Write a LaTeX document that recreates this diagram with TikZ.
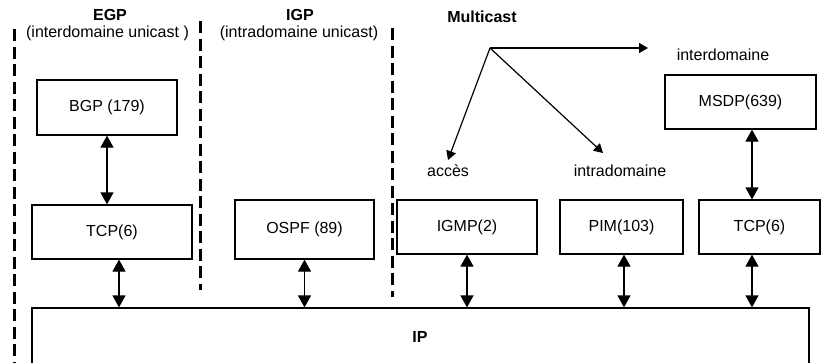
\documentclass[tikz,border=0pt]{standalone}
\usepackage{fontspec}
\setmainfont{Liberation Sans}
\usetikzlibrary{arrows.meta}
\begin{document}
\begin{tikzpicture}[x=1pt,y=-1pt,
  every node/.style={font=\fontsize{16}{19}\selectfont},
  proto/.style={draw, line width=1.2pt, inner sep=0pt},
  head/.style={font=\fontsize{16}{19}\selectfont\bfseries},
  link/.style={line width=1.2pt, {Triangle[width=13pt,length=12pt]}-{Triangle[width=13pt,length=12pt]}},
  branch/.style={line width=1.2pt, -{Triangle[width=10pt,length=9pt]}},
  separator/.style={line width=3pt, dash pattern=on 12pt off 5.5pt}]
\useasboundingbox (0,0) rectangle (823,362);

% domain separators
\draw[separator] (14,29) -- (14,370);
\draw[separator] (200,21) -- (200,290);
\draw[separator] (392,28) -- (392,297);

% column headings
\node[head] (egp) at (110,15) {EGP};
\node (egpsub) at (107.5,33) {(interdomaine unicast )};
\node[head] (igp) at (300,15) {IGP};
\node (igpsub) at (299,33) {(intradomaine unicast)};
\node[head] (mc) at (482,17) {Multicast};

% protocol boxes
\node[proto, minimum width=140pt, minimum height=55pt] (bgp) at (107,107.5) {BGP (179)};
\node[proto, minimum width=160pt, minimum height=54pt] (tcpl) at (112,232) {TCP(6)};
\node[proto, minimum width=139pt, minimum height=59pt] (ospf) at (304.5,229.5) {OSPF (89)};
\node[proto, minimum width=140pt, minimum height=54pt] (igmp) at (467,227) {IGMP(2)};
\node[proto, minimum width=123pt, minimum height=54pt] (pim) at (621.5,227) {PIM(103)};
\node[proto, minimum width=121pt, minimum height=54pt] (tcpr) at (759.5,227) {TCP(6)};
\node[proto, minimum width=151pt, minimum height=54pt] (msdp) at (740.5,102) {MSDP(639)};

% IP layer (its lower edge lies below the page)
\node[proto, minimum width=777pt, minimum height=72pt] (ip) at (420.5,344) {};
\node[head] (iplabel) at (420,337) {IP};

% vertical links
\draw[link] (bgp.south) -- (bgp.south |- tcpl.north);
\draw[link] ([xshift=7pt]tcpl.south) -- ([xshift=7pt]tcpl.south |- ip.north);
\draw[link] (ospf.south) -- (ospf.south |- ip.north);
\draw[link] (igmp.south) -- (igmp.south |- ip.north);
\draw[link] ([xshift=2.5pt]pim.south) -- ([xshift=2.5pt]pim.south |- ip.north);
\draw[link] ([xshift=-7.5pt]tcpr.south) -- ([xshift=-7.5pt]tcpr.south |- ip.north);
\draw[link] ([xshift=11.5pt]msdp.south) -- ([xshift=11.5pt]msdp.south |- tcpr.north);

% multicast scopes
\coordinate (fan) at (490,48);
\coordinate (tointer) at (648,48);
\coordinate (toacces) at (448,160);
\coordinate (tointra) at (603,153);
\draw[branch] (fan) -- (tointer);
\draw[branch] (fan) -- (toacces);
\draw[branch] (fan) -- (tointra);
\node (inter) at (723,55) {interdomaine};
\node (acces) at (448,171) {accès};
\node (intra) at (620,171) {intradomaine};
\end{tikzpicture}
\end{document}
